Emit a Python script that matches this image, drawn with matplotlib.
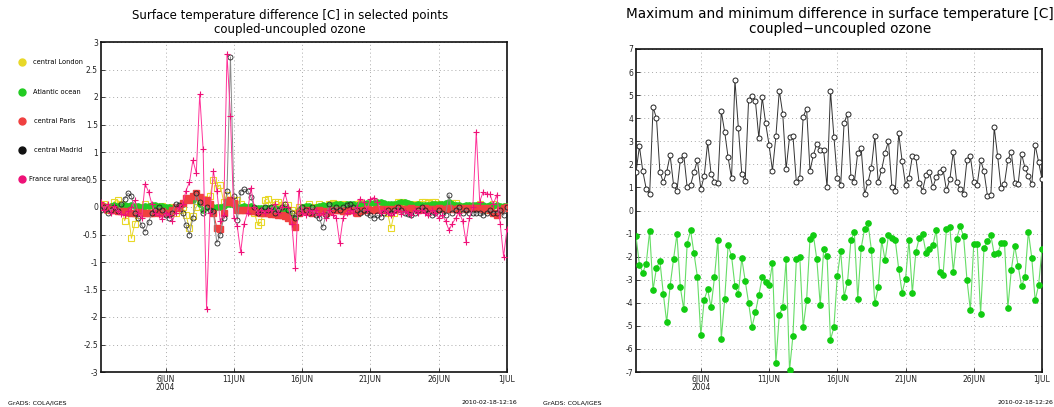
import matplotlib
matplotlib.use("Agg")
import matplotlib.pyplot as plt
import matplotlib.dates as mdates
from matplotlib.lines import Line2D
from matplotlib.ticker import FuncFormatter
from datetime import datetime, timedelta

# ---------------- data ----------------
start_time = datetime(2004, 6, 1, 6)
n_steps = 120
times = [start_time + timedelta(hours=6 * i) for i in range(n_steps)]

tick_dates = [datetime(2004, 6, 6), datetime(2004, 6, 11), datetime(2004, 6, 16),
              datetime(2004, 6, 21), datetime(2004, 6, 26), datetime(2004, 7, 1)]
tick_labels = ["6JUN\n2004", "11JUN", "16JUN", "21JUN", "26JUN", "1JUL"]

legend_labels = ["central London", "Atlantic ocean", "central Paris",
                 "central Madrid", "France rural area"]

london = [0.0, 0.05, -0.05, 0.0, 0.1, 0.12, 0.05, -0.25, -0.1, -0.57,
          -0.3, -0.15, 0.0, 0.05, -0.05, -0.1, 0.0, -0.05, 0.02, -0.08,
          -0.05, 0.0, -0.1, -0.05, 0.0, -0.15, -0.39, -0.16, 0.0, 0.1,
          0.15, 0.05, 0.2, 0.5, 0.35, 0.4, 0.1, 0.22, 0.1, 0.12,
          0.12, 0.05, 0.0, -0.05, 0.0, -0.1, -0.33, -0.27, 0.12, 0.15,
          0.04, 0.1, 0.1, 0.03, 0.0, 0.03, -0.05, -0.1, 0.0, -0.05,
          0.0, 0.05, -0.05, 0.0, 0.05, 0.02, -0.05, 0.05, 0.08, 0.05,
          0.0, 0.05, 0.02, -0.05, 0.0, 0.05, 0.08, 0.05, 0.0, 0.05,
          0.02, 0.08, 0.05, 0.0, -0.1, -0.39, -0.1, 0.1, 0.1, 0.05,
          0.0, 0.05, 0.02, 0.05, 0.1, 0.1, 0.08, 0.1, 0.1, 0.05,
          0.02, 0.0, 0.05, 0.08, 0.08, 0.0, -0.03, -0.03, 0.0, 0.02,
          0.0, 0.05, 0.0, -0.05, 0.0, 0.05, 0.0, -0.05, 0.0, 0.0]

atlantic = [0.0, 0.02, 0.0, 0.02, 0.03, 0.02, 0.02, 0.03, 0.02, 0.03,
            0.02, 0.01, 0.0, 0.01, 0.02, 0.03, 0.03, 0.02, 0.01, 0.0,
            0.0, -0.01, 0.0, 0.02, 0.05, 0.12, 0.15, 0.13, 0.2, 0.05,
            -0.05, 0.0, 0.02, 0.0, 0.0, 0.0, 0.02, 0.05, 0.05, 0.03,
            0.0, 0.0, 0.02, 0.0, 0.01, -0.01, -0.02, -0.02, -0.02, -0.02,
            -0.02, -0.02, -0.03, -0.05, -0.08, -0.12, -0.24, -0.2, -0.05, 0.0,
            0.02, 0.02, -0.05, 0.0, 0.02, 0.03, 0.02, 0.03, 0.04, 0.05,
            0.05, 0.04, 0.05, 0.06, 0.05, 0.04, 0.05, 0.06, 0.08, 0.08,
            0.08, 0.1, 0.1, 0.08, 0.05, 0.05, 0.06, 0.08, 0.1, 0.1,
            0.08, 0.05, 0.04, 0.05, 0.04, 0.03, 0.04, 0.05, 0.05, 0.05,
            0.06, 0.07, 0.1, 0.05, 0.04, 0.03, 0.02, 0.03, 0.04, 0.03,
            0.03, 0.04, 0.03, 0.02, 0.03, 0.02, 0.03, 0.02, 0.02, 0.02]

paris = [0.02, 0.0, -0.03, -0.05, -0.06, -0.07, -0.08, -0.08, -0.09, -0.1,
         -0.1, -0.09, -0.1, -0.1, -0.11, -0.1, -0.09, -0.1, -0.08, -0.1,
         -0.1, -0.06, 0.0, -0.02, 0.08, 0.16, 0.12, 0.2, 0.25, 0.18,
         0.1, 0.12, 0.05, -0.1, -0.38, -0.4, -0.1, 0.1, 0.12, 0.08,
         -0.05, -0.06, -0.05, -0.06, -0.07, -0.08, -0.09, -0.1, -0.1, -0.11,
         -0.12, -0.13, -0.14, -0.15, -0.17, -0.2, -0.25, -0.36, -0.1, -0.08,
         -0.06, -0.08, -0.1, -0.07, -0.05, -0.08, -0.1, -0.08, -0.06, -0.05,
         -0.05, -0.07, -0.08, -0.05, -0.06, -0.1, -0.08, -0.05, -0.04, -0.05,
         -0.05, -0.04, -0.03, -0.05, -0.04, -0.05, -0.03, -0.02, -0.04, -0.03,
         -0.03, -0.02, -0.04, -0.05, -0.03, -0.02, -0.03, -0.04, -0.03, -0.02,
         -0.03, -0.04, -0.02, -0.03, -0.04, -0.02, -0.01, -0.03, -0.02, -0.02,
         -0.01, -0.02, -0.03, -0.02, -0.05, -0.1, -0.15, -0.05, -0.02, 0.0]

madrid = [-0.05, 0.0, -0.1, -0.05, 0.0, -0.08, 0.05, 0.15, 0.25, 0.2,
          -0.1, -0.2, -0.33, -0.45, -0.28, -0.1, -0.05, 0.0, -0.05, -0.15,
          -0.2, -0.1, 0.05, 0.03, -0.1, -0.33, -0.5, -0.2, 0.25, 0.1,
          -0.1, 0.0, -0.05, -0.08, -0.65, -0.5, -0.2, 0.3, 2.73, 0.2,
          -0.24, 0.28, 0.32, 0.3, 0.18, 0.0, -0.1, -0.05, 0.0, -0.05,
          0.0, -0.1, -0.05, 0.0, 0.05, -0.05, -0.1, -0.2, -0.1, 0.0,
          -0.05, -0.1, 0.0, -0.15, -0.2, -0.37, -0.15, 0.05, -0.05, 0.0,
          -0.05, 0.0, 0.03, 0.05, 0.0, -0.05, -0.1, -0.05, -0.1, -0.15,
          -0.2, -0.15, -0.18, -0.1, -0.05, -0.1, -0.05, 0.0, -0.05, -0.1,
          -0.12, -0.15, -0.1, -0.05, 0.0, -0.05, -0.1, -0.15, -0.1, -0.05,
          -0.1, -0.15, 0.22, -0.1, -0.05, 0.0, -0.1, -0.05, -0.1, -0.1,
          -0.1, -0.1, -0.15, -0.1, -0.05, -0.1, -0.1, -0.05, -0.15, 0.0]

france_rural = [0.1, -0.05, 0.05, -0.1, 0.02, -0.08, -0.12, -0.15, -0.08, 0.0,
                0.12, -0.1, -0.2, 0.42, 0.28, 0.05, -0.1, -0.15, -0.22, -0.1,
                -0.15, -0.25, -0.1, 0.0, 0.05, 0.3, 0.45, 0.85, 0.62, 2.05,
                1.05, -1.85, -0.1, 0.65, 0.3, -0.25, -0.15, 2.78, 1.65, -0.2,
                -0.35, -0.82, -0.3, -0.1, 0.35, 0.0, -0.1, -0.05, -0.1, -0.05,
                -0.05, 0.05, -0.1, 0.0, 0.25, 0.0, -0.3, -1.1, 0.3, -0.1,
                -0.15, -0.05, -0.1, -0.05, -0.15, -0.1, -0.2, -0.05, -0.15, -0.2,
                -0.65, -0.2, -0.1, -0.05, -0.1, 0.0, 0.15, 0.1, -0.05, 0.15,
                0.17, 0.1, -0.1, -0.05, -0.1, -0.15, -0.1, -0.05, -0.12, -0.08,
                -0.1, -0.15, -0.05, -0.1, -0.05, -0.1, -0.15, -0.05, -0.1, -0.2,
                -0.15, -0.25, -0.42, -0.3, -0.2, -0.1, -0.25, -0.63, -0.2, 0.0,
                1.37, 0.1, 0.27, 0.24, 0.23, 0.05, 0.22, -0.3, -0.9, -0.4]

max_diff = [1.65, 2.78, 1.7, 0.93, 0.7, 4.48, 4.0, 1.68, 1.22, 1.68,
            2.4, 1.12, 0.85, 2.2, 2.42, 1.0, 1.1, 1.67, 2.17, 0.92,
            1.5, 2.95, 1.6, 1.24, 1.2, 4.3, 3.4, 2.3, 1.4, 5.66,
            3.58, 1.6, 1.27, 4.78, 4.97, 4.74, 3.15, 4.9, 3.78, 2.84,
            1.73, 3.21, 5.2, 4.2, 1.79, 3.17, 3.24, 1.23, 1.42, 4.06,
            4.42, 1.72, 2.41, 2.9, 2.64, 2.63, 1.0, 5.2, 3.2, 1.43,
            1.12, 3.8, 4.2, 1.45, 1.22, 2.51, 2.7, 0.7, 1.23, 1.86,
            3.22, 1.23, 1.76, 2.51, 3.0, 1.03, 0.84, 3.35, 2.14, 1.12,
            1.42, 2.35, 2.32, 1.2, 0.86, 1.53, 1.68, 1.0, 1.45, 1.68,
            1.78, 0.88, 1.35, 2.55, 1.22, 0.93, 0.73, 2.18, 2.35, 1.25,
            1.12, 2.18, 1.7, 0.65, 0.67, 3.6, 2.35, 0.96, 1.17, 2.2,
            2.54, 1.2, 1.13, 2.47, 1.85, 1.5, 1.13, 2.84, 2.1, 1.35]

min_diff = [-1.12, -2.35, -2.69, -2.3, -0.89, -3.44, -2.49, -2.18, -3.6, -4.85,
            -3.26, -2.11, -1.03, -3.33, -4.29, -1.44, -0.86, -1.86, -2.88, -5.4,
            -3.86, -3.42, -4.2, -2.9, -1.27, -5.55, -3.85, -1.5, -1.97, -3.27,
            -3.62, -2.07, -3.04, -4.0, -5.04, -4.42, -3.67, -2.88, -3.08, -3.25,
            -2.28, -6.62, -4.53, -4.18, -2.12, -6.93, -5.42, -2.12, -2.0, -5.06,
            -3.9, -1.22, -1.08, -2.12, -4.1, -1.69, -1.97, -5.6, -5.07, -2.85,
            -1.76, -3.73, -3.1, -1.27, -0.95, -3.83, -1.63, -0.79, -0.56, -1.71,
            -4.03, -3.33, -1.3, -2.15, -1.08, -1.21, -1.3, -2.54, -3.56, -2.97,
            -1.3, -3.57, -1.82, -1.2, -1.04, -1.83, -1.66, -1.51, -0.85, -2.65,
            -2.8, -0.79, -0.73, -2.65, -1.22, -0.69, -1.1, -3.0, -4.31, -1.45,
            -1.46, -4.47, -1.64, -1.34, -1.07, -1.89, -1.86, -1.43, -1.4, -4.21,
            -2.59, -1.53, -2.39, -3.27, -2.9, -0.92, -2.05, -3.9, -3.24, -1.69]

# ---------------- figure ----------------
W, H = 1054, 407
fig = plt.figure(figsize=(W / 100, H / 100), dpi=100)
fig.patch.set_facecolor("white")

ax1 = fig.add_axes([100.7 / W, 35 / H, 406.3 / W, 330 / H])
ax2 = fig.add_axes([636 / W, 35 / H, 406 / W, 323 / H])

xlim = (start_time, start_time + timedelta(hours=6 * (n_steps - 1)))


def style_axes(ax, ylim, ystep):
    ax.set_xlim(xlim)
    ax.set_ylim(ylim)
    ax.set_xticks(tick_dates)
    ax.set_xticklabels(tick_labels, fontsize=5.5, linespacing=0.9)
    yt = []
    v = ylim[0]
    while v <= ylim[1] + 1e-9:
        yt.append(round(v, 2))
        v += ystep
    ax.set_yticks(yt)
    ax.yaxis.set_major_formatter(FuncFormatter(lambda val, pos: f"{val:g}"))
    ax.tick_params(axis="both", labelsize=5.5, length=3, width=0.6,
                   direction="in", pad=2, colors="#222222")
    ax.grid(True, color="#aaaaaa", linestyle=(0, (1, 3)), linewidth=0.7)
    for sp in ax.spines.values():
        sp.set_linewidth(1.2)
        sp.set_color("#111111")


# ---- left panel ----
style_axes(ax1, (-3, 3), 0.5)
ax1.plot(times, london, color="#e8d828", lw=0.7, marker="s", ms=3.8,
         mfc="none", mec="#e8d828", mew=0.8, zorder=3)
ax1.plot(times, atlantic, color="#22cc22", lw=0.7, marker="o", ms=3.8,
         mfc="#22cc22", mec="#22cc22", zorder=4)
ax1.plot(times, paris, color="#f04040", lw=0.8, marker="s", ms=5.0,
         mfc="#f04040", mec="#f04040", zorder=5)
ax1.plot(times, madrid, color="#888888", lw=0.7, marker="o", ms=3.6,
         mfc="none", mec="#222222", mew=0.6, zorder=6)
ax1.plot(times, france_rural, color="#ff3399", lw=0.7, marker="+", ms=4.5,
         mec="#ee1177", mew=0.8, zorder=7)

fig.text(290 / W, 1 - 15 / H, "Surface temperature difference [C] in selected points",
         ha="center", va="center", fontsize=8.5)
fig.text(290 / W, 1 - 29 / H, "coupled-uncoupled ozone",
         ha="center", va="center", fontsize=8.5)

legend_colors = ["#e8d828", "#22cc22", "#f04040", "#111111", "#ee1177"]
legend_y = [62, 92, 121, 150, 179]
legend_x = [33, 33, 34, 34, 29]
for lab, col, yy, xx in zip(legend_labels, legend_colors, legend_y, legend_x):
    fig.add_artist(Line2D([22 / W], [1 - yy / H], marker="o", ms=5,
                          color=col, mec=col, transform=fig.transFigure))
    fig.text(xx / W, 1 - yy / H, lab, ha="left", va="center", fontsize=4.8)

fig.text(8 / W, 1 - 403 / H, "GrADS: COLA/IGES", ha="left", va="center", fontsize=4.5)
fig.text(517 / W, 1 - 403 / H, "2010-02-18-12:16", ha="right", va="center", fontsize=4.5)

# ---- right panel ----
style_axes(ax2, (-7, 7), 1)
ax2.plot(times, max_diff, color="#333333", lw=0.7, marker="o", ms=3.6,
         mfc="white", mec="#222222", mew=0.7, zorder=4)
ax2.plot(times, min_diff, color="#66dd66", lw=0.8, marker="o", ms=3.8,
         mfc="#11cc11", mec="#11cc11", zorder=4)

fig.text(840 / W, 1 - 14 / H,
         "Maximum and minimum difference in surface temperature [C]",
         ha="center", va="center", fontsize=9.8)
fig.text(840 / W, 1 - 29 / H, "coupled\u2212uncoupled ozone",
         ha="center", va="center", fontsize=9.8)

fig.text(543 / W, 1 - 403 / H, "GrADS: COLA/IGES", ha="left", va="center", fontsize=4.5)
fig.text(1053 / W, 1 - 403 / H, "2010-02-18-12:26", ha="right", va="center", fontsize=4.5)

fig.savefig("out.png", dpi=100, facecolor="white")
